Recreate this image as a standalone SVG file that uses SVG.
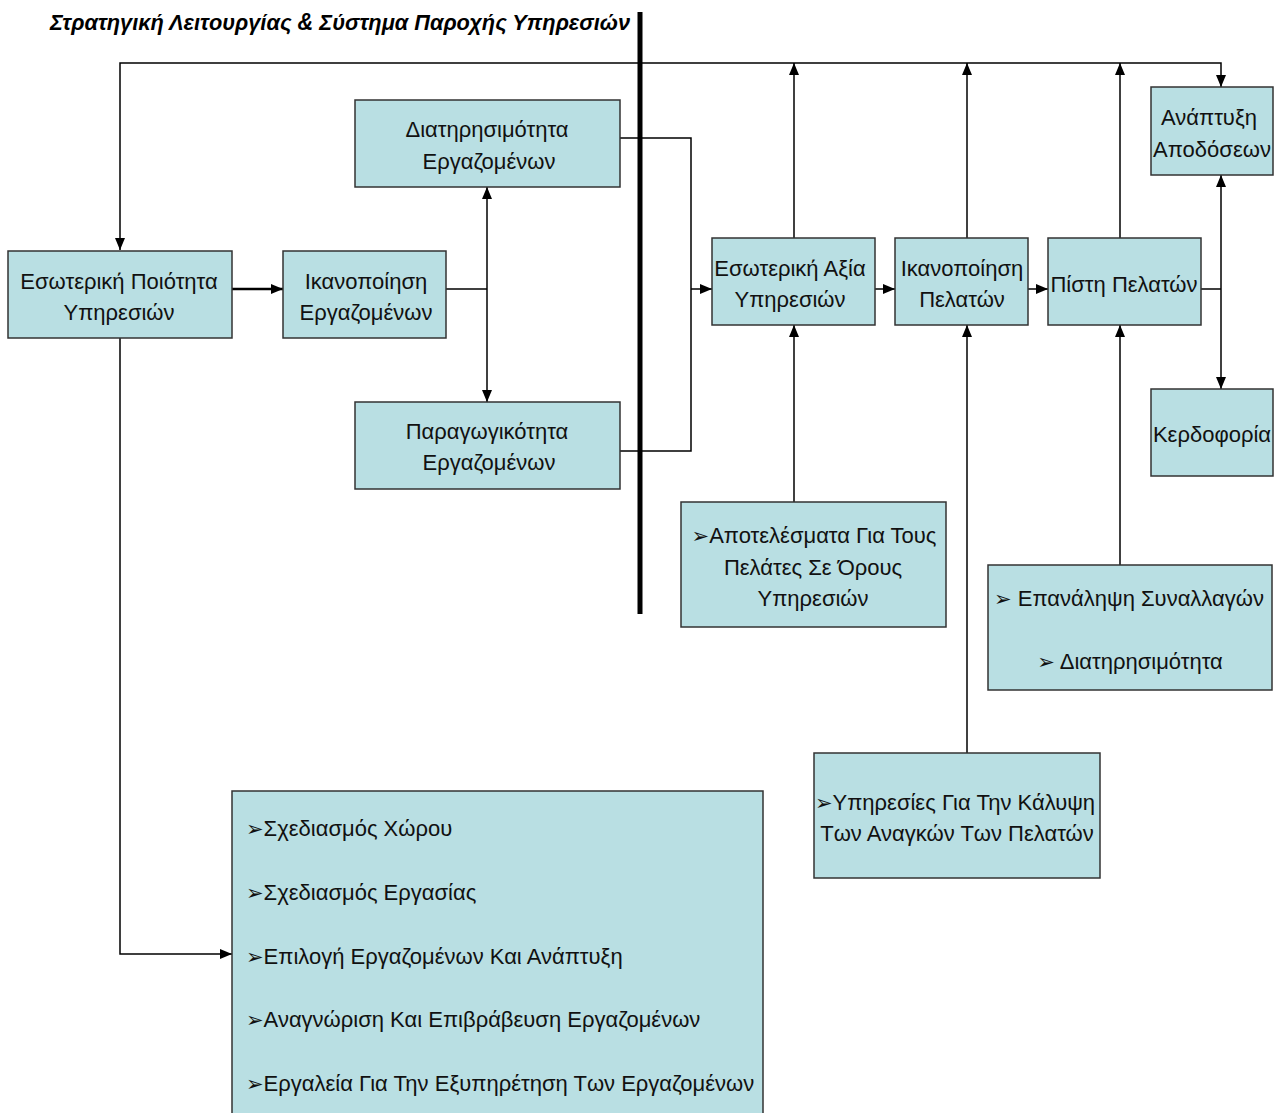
<svg xmlns="http://www.w3.org/2000/svg" width="1276" height="1113" viewBox="0 0 1276 1113">
  <style>
    .box { fill: #b9dfe3; stroke: #333; stroke-width: 1.5; }
    .lbl { font-family: "Liberation Sans", Arial, sans-serif; font-size: 22px; fill: #111; text-anchor: middle; }
    .lst { font-family: "Liberation Sans", Arial, sans-serif; font-size: 22px; fill: #111; }
    .blt { font-family: "DejaVu Sans", sans-serif; font-size: 21px; }
    .con { fill: none; stroke: #000; stroke-width: 1.5; }
    .thick { stroke-width: 2.5; }
  </style>
  <defs>
    <marker id="arr" viewBox="0 0 12 10" refX="12" refY="5" markerWidth="12" markerHeight="10" markerUnits="userSpaceOnUse" orient="auto-start-reverse">
      <path d="M0,0 L12,5 L0,10 z" fill="#000"/>
    </marker>
  </defs>
  <rect width="1276" height="1113" fill="#fff"/>

  <!-- title and dividing bar -->
  <text x="50" y="30" font-family="'Liberation Sans', Arial, sans-serif" font-size="23" font-weight="bold" font-style="italic" textLength="580" lengthAdjust="spacingAndGlyphs">Στρατηγική Λειτουργίας &amp; Σύστημα Παροχής Υπηρεσιών</text>
  <line x1="640" y1="12" x2="640" y2="614" stroke="#000" stroke-width="5"/>

  <!-- connectors -->
  <g id="connectors">
    <path class="con" d="M120,250 V63 H1221 V87" marker-start="url(#arr)" marker-end="url(#arr)"/>
    <path class="con" d="M794,238 V63" marker-end="url(#arr)"/>
    <path class="con" d="M967,238 V63" marker-end="url(#arr)"/>
    <path class="con" d="M1120,238 V63" marker-end="url(#arr)"/>
    <path class="con thick" d="M232,289 H283" marker-end="url(#arr)"/>
    <path class="con" d="M446,289 H487"/>
    <path class="con" d="M487,187 V402" marker-start="url(#arr)" marker-end="url(#arr)"/>
    <path class="con" d="M620,138 H691 V451 H620"/>
    <path class="con" d="M691,289 H712" marker-end="url(#arr)"/>
    <path class="con" d="M875,289 H895" marker-end="url(#arr)"/>
    <path class="con" d="M1028,289 H1048" marker-end="url(#arr)"/>
    <path class="con" d="M1201,289 H1221"/>
    <path class="con" d="M1221,175 V389" marker-start="url(#arr)" marker-end="url(#arr)"/>
    <path class="con" d="M794,502 V325" marker-end="url(#arr)"/>
    <path class="con" d="M967,753 V325" marker-end="url(#arr)"/>
    <path class="con" d="M1120,565 V325" marker-end="url(#arr)"/>
    <path class="con" d="M120,338 V954 H232" marker-end="url(#arr)"/>
  </g>

  <!-- nodes -->
  <g id="internal-quality">
    <rect class="box" x="8" y="251" width="224" height="87"/>
    <text class="lbl" x="119" y="289">Εσωτερική Ποιότητα</text>
    <text class="lbl" x="119" y="320">Υπηρεσιών</text>
  </g>
  <g id="employee-satisfaction">
    <rect class="box" x="283" y="251" width="163" height="87"/>
    <text class="lbl" x="366" y="289">Ικανοποίηση</text>
    <text class="lbl" x="366" y="320">Εργαζομένων</text>
  </g>
  <g id="employee-retention">
    <rect class="box" x="355" y="100" width="265" height="87"/>
    <text class="lbl" x="487" y="137">Διατηρησιμότητα</text>
    <text class="lbl" x="489" y="169">Εργαζομένων</text>
  </g>
  <g id="employee-productivity">
    <rect class="box" x="355" y="402" width="265" height="87"/>
    <text class="lbl" x="487" y="439">Παραγωγικότητα</text>
    <text class="lbl" x="489" y="470">Εργαζομένων</text>
  </g>
  <g id="service-value">
    <rect class="box" x="712" y="238" width="163" height="87"/>
    <text class="lbl" x="790" y="276">Εσωτερική Αξία</text>
    <text class="lbl" x="790" y="307">Υπηρεσιών</text>
  </g>
  <g id="customer-satisfaction">
    <rect class="box" x="895" y="238" width="133" height="87"/>
    <text class="lbl" x="962" y="276">Ικανοποίηση</text>
    <text class="lbl" x="962" y="307">Πελατών</text>
  </g>
  <g id="customer-loyalty">
    <rect class="box" x="1048" y="238" width="153" height="87"/>
    <text class="lbl" x="1124" y="292">Πίστη Πελατών</text>
  </g>
  <g id="revenue-growth">
    <rect class="box" x="1151" y="87" width="122" height="88"/>
    <text class="lbl" x="1209" y="125">Ανάπτυξη</text>
    <text class="lbl" x="1212" y="157">Αποδόσεων</text>
  </g>
  <g id="profitability">
    <rect class="box" x="1151" y="389" width="122" height="87"/>
    <text class="lbl" x="1212" y="442">Κερδοφορία</text>
  </g>
  <g id="customer-results">
    <rect class="box" x="681" y="502" width="265" height="125"/>
    <text class="lbl" x="814" y="543"><tspan class="blt">➢</tspan>Αποτελέσματα Για Τους</text>
    <text class="lbl" x="813" y="575">Πελάτες Σε Όρους</text>
    <text class="lbl" x="813" y="606">Υπηρεσιών</text>
  </g>
  <g id="repeat-business">
    <rect class="box" x="988" y="565" width="284" height="125"/>
    <text class="lbl" x="1129" y="606"><tspan class="blt">➢</tspan> Επανάληψη Συναλλαγών</text>
    <text class="lbl" x="1130" y="669"><tspan class="blt">➢</tspan> Διατηρησιμότητα</text>
  </g>
  <g id="customer-needs">
    <rect class="box" x="814" y="753" width="286" height="125"/>
    <text class="lbl" x="955" y="810"><tspan class="blt">➢</tspan>Υπηρεσίες Για Την Κάλυψη</text>
    <text class="lbl" x="957" y="841">Των Αναγκών Των Πελατών</text>
  </g>
  <g id="workplace-design">
    <rect class="box" x="232" y="791" width="531" height="330"/>
    <text class="lst" x="246" y="836"><tspan class="blt">➢</tspan>Σχεδιασμός Χώρου</text>
    <text class="lst" x="246" y="900"><tspan class="blt">➢</tspan>Σχεδιασμός Εργασίας</text>
    <text class="lst" x="246" y="964"><tspan class="blt">➢</tspan>Επιλογή Εργαζομένων Και Ανάπτυξη</text>
    <text class="lst" x="246" y="1027"><tspan class="blt">➢</tspan>Αναγνώριση Και Επιβράβευση Εργαζομένων</text>
    <text class="lst" x="246" y="1091"><tspan class="blt">➢</tspan>Εργαλεία Για Την Εξυπηρέτηση Των Εργαζομένων</text>
  </g>
</svg>
